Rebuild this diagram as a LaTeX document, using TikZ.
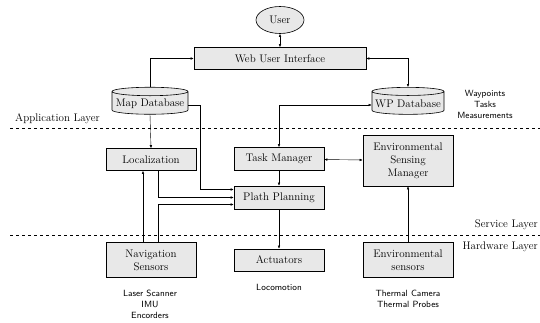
\documentclass[tikz,border=0pt]{standalone}
\usetikzlibrary{shapes.geometric,arrows.meta}
\begin{document}
\begin{tikzpicture}[x=1pt,y=-1pt,
    module/.style ={rectangle, draw, semithick, fill=gray!18, minimum width=90pt, minimum height=22pt, inner sep=2pt, align=center, font=\fontsize{11}{13}\selectfont},
    database/.style ={cylinder, shape border rotate=90, aspect=0.12, draw, semithick, fill=gray!18, minimum width=76pt, minimum height=27pt, inner sep=1pt, font=\fontsize{11}{13}\selectfont},
    note/.style ={align=center, font=\sffamily\fontsize{9}{11}\selectfont},
    layer/.style ={font=\fontsize{11}{13}\selectfont},
    link/.style ={-{Latex[length=3pt,width=2.5pt]}, thin},
    dlink/.style ={{Latex[length=3pt,width=2.5pt]}-{Latex[length=3pt,width=2.5pt]}, thin}]
   \useasboundingbox (0,0) rectangle (540,323);
   \node[ellipse, draw, semithick, fill=gray!18, minimum width=48pt, minimum height=27pt, inner sep=1pt, font=\fontsize{11}{13}\selectfont] (user) at (280,20) {User};
   \node[module, minimum width=172pt] (wui) at (280,58.5) {Web User Interface};
   \node[database] (mapdb) at (150,103.5) {Map Database};
   \node[database, minimum width=72pt] (wpdb) at (408,103.5) {WP Database};
   \node[note] (wpnote) at (485,104) {Waypoints\\Tasks\\Measurements};

   \node[module] (loc) at (151,159.5) {Localization};
   \node[module, minimum height=23pt] (task) at (279,159) {Task Manager};
   \node[module, minimum height=51pt] (esm) at (408,160.5) {Environmental\\Sensing\\Manager};
   \node[module, minimum height=23pt] (plan) at (279,197.5) {Plath Planning};

   \node[module, minimum height=35pt] (nav) at (151,260) {Navigation\\Sensors};
   \node[module] (act) at (279,260) {Actuators};
   \node[module, minimum height=35pt] (env) at (408,260) {Environmental\\sensors};
   \node[note] (navnote) at (150,304) {Laser Scanner\\IMU\\Encorders};
   \node[note] (actnote) at (279,287) {Locomotion};
   \node[note] (envnote) at (408,298.5) {Thermal Camera\\Thermal Probes};

   % layers
   \draw[dashed, semithick] (10,128.5) -- (540,128.5);
   \draw[dashed, semithick] (10,235.5) -- (540,235.5);
   \node[layer] (applayer) at (57.5,119) {Application Layer};
   \node[layer, anchor=east, inner sep=1pt] (servlayer) at (539,225) {Service Layer};
   \node[layer, anchor=east, inner sep=1pt] (hwlayer) at (539,247) {Hardware Layer};

   \draw[dlink] (user) to (wui);
   \draw[link] (mapdb.north) |- (wui.west);
   \draw[dlink] (wui.east) -| (wpdb.north);
   \draw[dlink] (task.north) |- ([yshift=-1.5pt]wpdb.east -| wpdb.west);
   \draw[link] (mapdb.south) to (loc.north);
   \draw[link] ([yshift=-1.5pt]mapdb.east) -- ++(12,0) |- ([yshift=8pt]plan.west);
   \draw[link] ([xshift=7pt]loc.south) |- (plan.west);
   \draw[link] ([xshift=7pt]nav.north) |- ([yshift=-7pt]plan.west);
   \draw[link] ([xshift=-8pt]nav.north) to ([xshift=-8pt]loc.south);
   \draw[dlink] (task) to (esm);
   \draw[link] (task) to (plan);
   \draw[link] (plan) to (act);
   \draw[link] (env) to (esm);
 \end{tikzpicture}
\end{document}
